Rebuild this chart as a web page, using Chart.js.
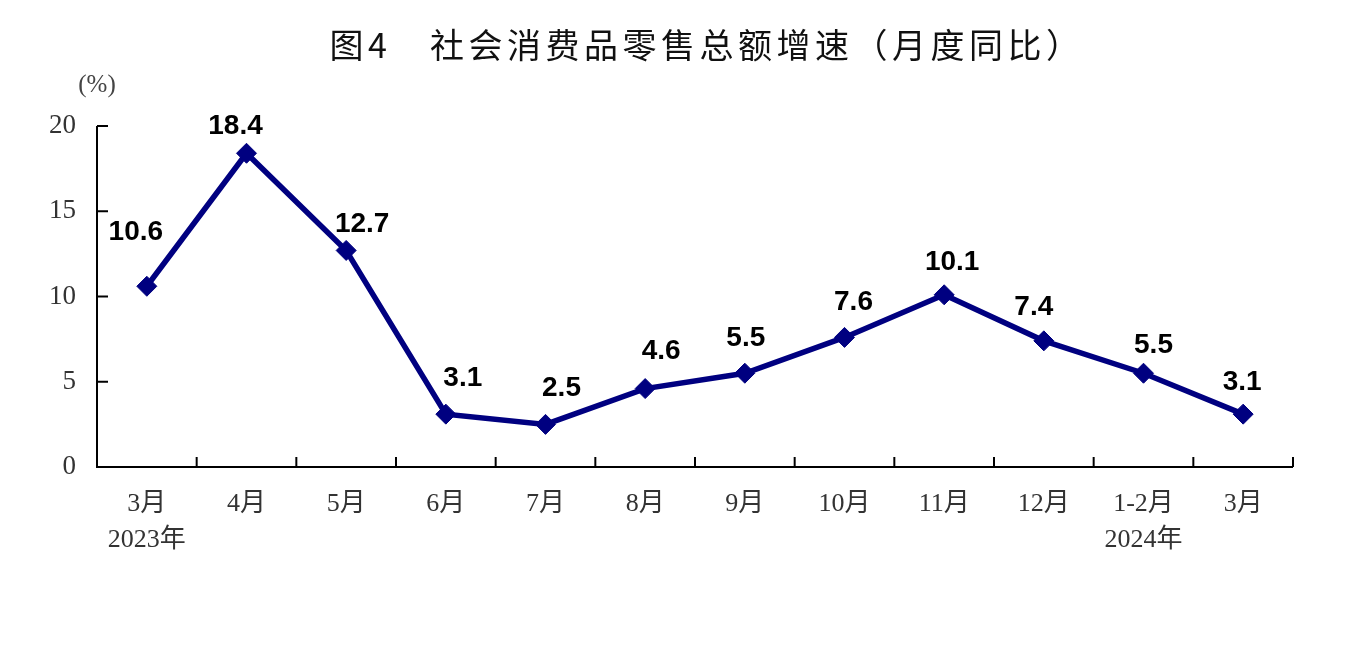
<!DOCTYPE html>
<html>
<head>
<meta charset="utf-8">
<script src="https://cdn.jsdelivr.net/npm/chart.js@4.4.1/dist/chart.umd.min.js"></script>
<style>
  html, body { margin: 0; padding: 0; background: #fff; }
  #wrap { width: 1359px; height: 660px; position: relative; }
</style>
</head>
<body>
<div id="wrap"><canvas id="c" width="1359" height="660"></canvas></div>
<script>
// ---- data ----
const titleText = '图4\u3000社会消费品零售总额增速（月度同比）';
const unitLabel = '(%)';
const categories = [['3月','2023年'],'4月','5月','6月','7月','8月','9月','10月','11月','12月',['1-2月','2024年'],'3月'];
const growth = [10.6, 18.4, 12.7, 3.1, 2.5, 4.6, 5.5, 7.6, 10.1, 7.4, 5.5, 3.1];
const yTicks = [0, 5, 10, 15, 20];

// label offsets (pixels, relative to point) – styling only
const labelDx = [-11, -11, 16, 17, 16, 16, 1, 9, 8, -10, 10, -1];
const labelDy = [-54, -27, -26, -36, -36, -37, -35, -35, -33, -34, -28, -32];

const serif = '"Liberation Serif", "Times New Roman", "Noto Sans CJK SC", serif';
const sans = '"Liberation Sans", Arial, sans-serif';
const cjkSans = '"Noto Sans CJK SC", "Liberation Sans", sans-serif';

const decor = {
  id: 'decor',
  afterDraw(chart) {
    const ctx = chart.ctx;
    const x = chart.scales.x, y = chart.scales.y;
    ctx.save();
    // axes
    ctx.strokeStyle = '#000';
    ctx.lineWidth = 2;
    ctx.lineCap = 'butt';
    const y0 = y.getPixelForValue(0);
    const yTop = y.getPixelForValue(20);
    const left = x.left, right = x.right;
    ctx.beginPath();
    ctx.moveTo(left, yTop);
    ctx.lineTo(left, y0);
    ctx.lineTo(right, y0);
    ctx.stroke();
    // y ticks (inside)
    yTicks.forEach(v => {
      const py = y.getPixelForValue(v);
      ctx.beginPath();
      ctx.moveTo(left, py);
      ctx.lineTo(left + 11, py);
      ctx.stroke();
    });
    // x ticks (boundaries, inside)
    const n = growth.length;
    for (let i = 1; i <= n; i++) {
      let px;
      if (i < n) px = (x.getPixelForValue(i - 1) + x.getPixelForValue(i)) / 2;
      else px = right;
      ctx.beginPath();
      ctx.moveTo(px, y0);
      ctx.lineTo(px, y0 - 10);
      ctx.stroke();
    }
    // unit label
    ctx.fillStyle = '#444';
    ctx.font = '25px ' + serif;
    ctx.textAlign = 'center';
    ctx.textBaseline = 'middle';
    ctx.fillText(unitLabel, left, yTop - 41);
    // data labels
    const meta = chart.getDatasetMeta(0);
    ctx.fillStyle = '#000';
    ctx.font = 'bold 28px ' + sans;
    meta.data.forEach((pt, i) => {
      ctx.fillText(growth[i].toFixed(1), pt.x + labelDx[i], pt.y + labelDy[i]);
    });
    // title
    ctx.fillStyle = '#111';
    ctx.font = '400 34px ' + cjkSans;
    if ('letterSpacing' in ctx) ctx.letterSpacing = '4.5px';
    ctx.textAlign = 'center';
    ctx.fillText(titleText, 707, 45);
    ctx.restore();
  }
};

new Chart(document.getElementById('c'), {
  type: 'line',
  data: {
    labels: categories,
    datasets: [{
      data: growth,
      borderColor: '#000080',
      backgroundColor: '#000080',
      borderWidth: 5.5,
      pointStyle: 'rectRot',
      pointRadius: 10,
      pointBorderWidth: 1,
      pointHoverRadius: 10,
      tension: 0,
      fill: false
    }]
  },
  options: {
    responsive: false,
    animation: false,
    events: [],
    layout: { padding: { top: 126, right: 66, bottom: 0, left: 0 } },
    plugins: {
      legend: { display: false },
      title: { display: false },
      tooltip: { enabled: false }
    },
    scales: {
      x: {
        type: 'category',
        offset: true,
        grid: { display: false, drawTicks: false },
        border: { display: false },
        afterFit(s) { s.height = 660 - 467; },
        ticks: {
          autoSkip: false,
          maxRotation: 0,
          minRotation: 0,
          padding: 19,
          color: '#333',
          font: { family: serif, size: 26, lineHeight: 1.4 }
        }
      },
      y: {
        min: 0,
        max: 20,
        afterFit(s) { s.width = 97; },
        afterBuildTicks(s) { s.ticks = yTicks.map(v => ({ value: v })); },
        grid: { display: false, drawTicks: false },
        border: { display: false },
        ticks: {
          padding: 21,
          color: '#333',
          font: { family: serif, size: 27 }
        }
      }
    }
  },
  plugins: [decor]
});
</script>
</body>
</html>
